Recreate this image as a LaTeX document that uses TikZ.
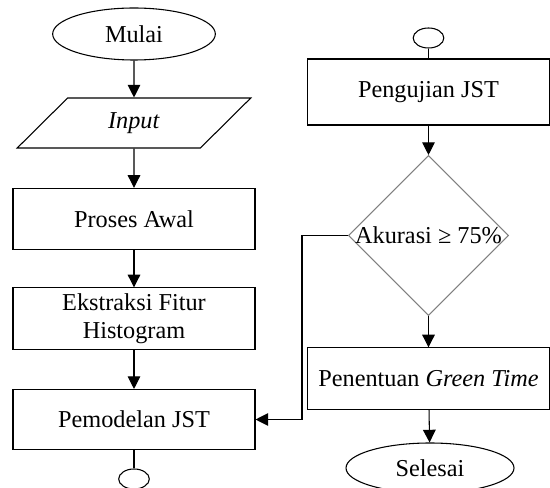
\documentclass[tikz,border=0pt]{standalone}
\usepackage{fontspec}
\setmainfont{Liberation Serif}
\usetikzlibrary{shapes.geometric,arrows.meta}
\tikzset{>={Triangle[length=9.5pt,width=9.5pt]}}

\begin{document}
\begin{tikzpicture}[x=0.75pt,y=-0.75pt,line width=0.8pt,
  font=\fontsize{18.2}{21}\selectfont,
  box/.style={draw,rectangle,minimum width=181.5pt,minimum height=46pt,inner sep=0pt,align=center},
  term/.style={draw,ellipse,inner sep=0pt},
  conn/.style={draw,ellipse,minimum width=23pt,minimum height=15pt,inner sep=0pt}]
\useasboundingbox (0,0) rectangle (550,488);
% left column
\node[term,minimum width=122pt,minimum height=39pt] (mulai) at (134,34) {Mulai};
\node[draw,trapezium,trapezium left angle=47,trapezium right angle=133,
  trapezium stretches=true,minimum width=176pt,minimum height=37.5pt,inner sep=0pt] (input) at (134,123) {\textit{Input}};
\node[box] (awal) at (134,219) {Proses Awal};
\node[box] (fitur) at (134,318.5) {Ekstraksi Fitur\\Histogram};
\node[box,minimum height=45pt] (model) at (134,419.5) {Pemodelan JST};
\node[conn] (konA) at (134,479) {};
\draw[->] (mulai) -- (input);
\draw[->] (input) -- (awal);
\draw[->] (awal) -- (fitur);
\draw[->] (fitur) -- (model);
\draw (model) -- (konA);
% right column
\node[conn] (konB) at (428.5,38) {};
\node[box,minimum height=49.5pt] (uji) at (428.5,92) {Pengujian JST};
\node[draw=gray,diamond,minimum width=120pt,minimum height=120pt,inner sep=0pt,
  label=center:{Akurasi ≥ 75\%}] (akurasi) at (428.5,235.5) {};
\node[box] (green) at (428.5,378.5) {Penentuan \textit{Green Time}};
\node[term,minimum width=126pt,minimum height=37.5pt] (selesai) at (430,468) {Selesai};
\draw (konB) -- (uji);
\draw[->] (uji) -- (akurasi);
\draw[->] (akurasi) -- (green);
\draw[->] (green) -- (selesai);
\draw[->] (akurasi.west) -- ++(-46,0) |- (model.east);
\end{tikzpicture}
\end{document}
